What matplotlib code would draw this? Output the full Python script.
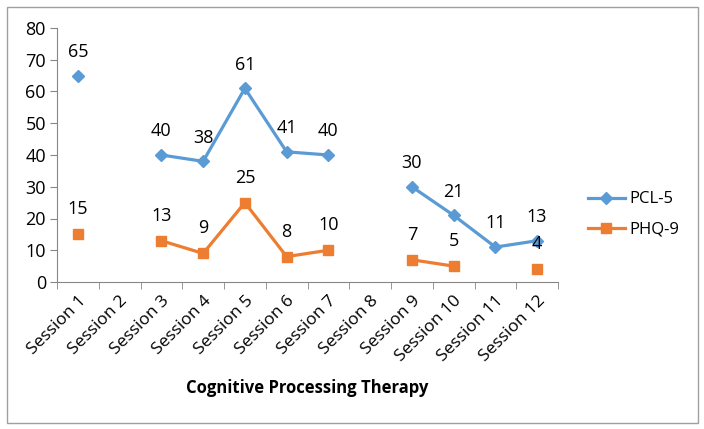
import numpy as np
import matplotlib
matplotlib.use("Agg")
import matplotlib.pyplot as plt
from matplotlib.patches import Rectangle

plt.rcParams['font.family'] = ['Open Sans', 'DejaVu Sans']

sessions = [f"Session {i}" for i in range(1, 13)]
pcl5 = [65, np.nan, 40, 38, 61, 41, 40, np.nan, 30, 21, 11, 13]
phq9 = [15, np.nan, 13, 9, 25, 8, 10, np.nan, 7, 5, np.nan, 4]
yticks = [0, 10, 20, 30, 40, 50, 60, 70, 80]

blue = '#5B9BD5'
orange = '#ED7D31'
axis_gray = '#868686'

fig = plt.figure(figsize=(7.04, 4.29), dpi=100)
fig.patches.append(Rectangle((7/704, 6/429), 691/704, 416/429, transform=fig.transFigure,
                             fill=False, edgecolor='#A0A0A0', linewidth=1))
ax = fig.add_axes([57/704, 1 - 282/429, 501/704, 254/429])

x = np.arange(len(sessions))
ax.plot(x, pcl5, color=blue, lw=2.3, marker='D', markersize=6.5, label='PCL-5')
ax.plot(x, phq9, color=orange, lw=2.3, marker='s', markersize=7.5, label='PHQ-9')

for xi, v in zip(x, pcl5):
    if not np.isnan(v):
        ax.annotate(f"{int(v)}", (xi, v), xytext=(0, 17), textcoords='offset points',
                    ha='center', va='center', fontsize=13)
for xi, v in zip(x, phq9):
    if not np.isnan(v):
        ax.annotate(f"{int(v)}", (xi, v), xytext=(0, 18), textcoords='offset points',
                    ha='center', va='center', fontsize=13)

ax.set_xlim(-0.5, len(sessions) - 0.5)
ax.set_ylim(0, 80)
ax.set_yticks(yticks)
ax.set_yticklabels([str(t) for t in yticks], fontsize=13)
ax.set_xticks(x)
ax.set_xticklabels(sessions, rotation=45, ha='right', rotation_mode='anchor', fontsize=12.5)
ax.set_xticks(np.arange(-0.5, len(sessions)), minor=True)
ax.tick_params(axis='x', which='major', length=0, pad=8)
ax.tick_params(axis='x', which='minor', length=5, color=axis_gray, direction='out')
ax.tick_params(axis='y', length=5, color=axis_gray, direction='out', pad=3)
for s in ['top', 'right']:
    ax.spines[s].set_visible(False)
for s in ['left', 'bottom']:
    ax.spines[s].set_color(axis_gray)

ax.set_xlabel('Cognitive Processing Therapy', fontsize=12, fontweight='bold', labelpad=10)

leg = ax.legend(loc='center left', bbox_to_anchor=(1.03, 0.266), frameon=False, fontsize=12,
                handlelength=2.2, labelspacing=0.85, handletextpad=0.3)

fig.savefig('out.png', dpi=100)
